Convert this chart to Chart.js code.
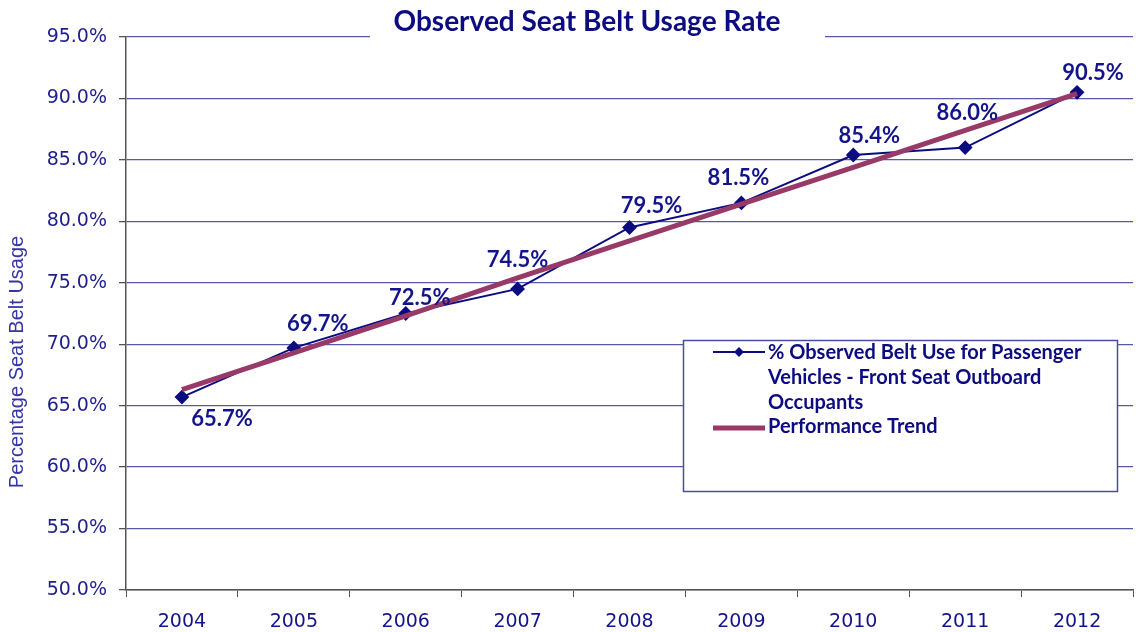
<!DOCTYPE html>
<html>
<head>
<meta charset="utf-8">
<script src="https://cdn.jsdelivr.net/npm/chart.js@4/dist/chart.umd.min.js"></script>
<style>
    body { margin: 0; background: #fff; }
    #wrap { width: 1141px; height: 632px; position: relative; }
</style>
</head>
<body>
<div id="wrap"><canvas id="line-chart"></canvas></div>
<script>
const years = ['2004', '2005', '2006', '2007', '2008', '2009', '2010', '2011', '2012'];
const beltUse = [65.7, 69.7, 72.5, 74.5, 79.5, 81.5, 85.4, 86.0, 90.5];
const trend = [66.3, 69.3, 72.3, 75.4, 78.4, 81.4, 84.4, 87.4, 90.4];
const yTicks = [50, 55, 60, 65, 70, 75, 80, 85, 90, 95];
const chartTitle = 'Observed Seat Belt Usage Rate';
const yTitle = 'Percentage Seat Belt Usage';
const beltLabel = ['% Observed Belt Use for Passenger', 'Vehicles - Front Seat Outboard', 'Occupants'];
const trendLabel = 'Performance Trend';

const navy = '#0c0c80';
const maroon = '#983a68';

// where each value label sits relative to its point
const labelOffsets = [[40, 22], [24, -24], [14, -16], [0, -29], [22, -22], [-3, -25], [16, -19], [2, -35], [16, -19]];

const extras = {
    id: 'extras',
    afterDraw(chart) {
        const ctx = chart.ctx;
        ctx.save();

        // title with white box over the top gridline
        ctx.fillStyle = '#fff';
        ctx.fillRect(370, 0, 455, 42);
        ctx.fillStyle = navy;
        ctx.font = 'bold 28px Lato';
        ctx.textAlign = 'center';
        ctx.textBaseline = 'middle';
        ctx.fillText(chartTitle, 587, 22);

        // value labels
        const meta = chart.getDatasetMeta(1);
        ctx.font = 'bold 22px Lato';
        ctx.fillStyle = '#14148a';
        meta.data.forEach((pt, i) => {
            ctx.fillText(beltUse[i].toFixed(1) + '%', pt.x + labelOffsets[i][0], pt.y + labelOffsets[i][1]);
        });

        // y axis title
        ctx.save();
        ctx.translate(17, 362);
        ctx.rotate(-Math.PI / 2);
        ctx.font = '20px "Liberation Sans"';
        ctx.fillStyle = '#3535a6';
        ctx.fillText(yTitle, 0, 0);
        ctx.restore();

        // legend box
        ctx.fillStyle = '#fff';
        ctx.fillRect(683, 340, 434, 151);
        ctx.strokeStyle = '#4b4ba3';
        ctx.lineWidth = 1.5;
        ctx.strokeRect(683.5, 340.5, 434, 151);

        ctx.strokeStyle = navy;
        ctx.lineWidth = 2;
        ctx.beginPath();
        ctx.moveTo(713, 352);
        ctx.lineTo(765, 352);
        ctx.stroke();
        ctx.fillStyle = navy;
        ctx.beginPath();
        ctx.moveTo(739, 347);
        ctx.lineTo(744, 352);
        ctx.lineTo(739, 357);
        ctx.lineTo(734, 352);
        ctx.closePath();
        ctx.fill();

        ctx.strokeStyle = maroon;
        ctx.lineWidth = 5;
        ctx.beginPath();
        ctx.moveTo(713, 428);
        ctx.lineTo(765, 428);
        ctx.stroke();

        ctx.font = 'bold 20px Lato';
        ctx.textAlign = 'left';
        ctx.fillStyle = navy;
        beltLabel.forEach((line, i) => {
            ctx.fillText(line, 768, 353 + i * 25);
        });
        ctx.fillText(trendLabel, 768, 427);

        ctx.restore();
    }
};

new Chart(document.getElementById('line-chart'), {
    type: 'line',
    data: {
        labels: years,
        datasets: [
            {
                label: trendLabel,
                data: trend,
                borderColor: maroon,
                borderWidth: 5,
                pointRadius: 0,
                order: 0
            },
            {
                label: beltLabel.join(' '),
                data: beltUse,
                borderColor: navy,
                backgroundColor: navy,
                borderWidth: 2,
                pointStyle: 'rectRot',
                pointRadius: 6,
                pointBackgroundColor: navy,
                order: 1
            }
        ]
    },
    options: {
        responsive: true,
        maintainAspectRatio: false,
        animation: false,
        layout: { padding: { top: 37, right: 0, left: 0, bottom: 0 } },
        plugins: {
            legend: { display: false },
            tooltip: { enabled: false }
        },
        scales: {
            x: {
                offset: true,
                grid: { offset: true, drawOnChartArea: false, tickLength: 7, color: '#555', tickColor: '#555' },
                border: { color: '#555', width: 1.5 },
                ticks: { color: '#14148a', font: { family: 'DejaVu Sans', size: 19 }, padding: 14, maxRotation: 0 },
                afterFit(scale) { scale.height = 42; }
            },
            y: {
                min: 50,
                max: 95,
                afterBuildTicks(scale) { scale.ticks = yTicks.map(v => ({ value: v })); },
                grid: { color: '#5858a8', lineWidth: 1.3, tickLength: 7, tickColor: '#555' },
                border: { color: '#555', width: 1.5 },
                ticks: {
                    color: '#1e1e8c',
                    font: { family: 'DejaVu Sans', size: 19 },
                    padding: 12,
                    callback: v => v.toFixed(1) + '%'
                },
                afterFit(scale) { scale.width = 126; }
            }
        }
    },
    plugins: [extras]
});
</script>
</body>
</html>
